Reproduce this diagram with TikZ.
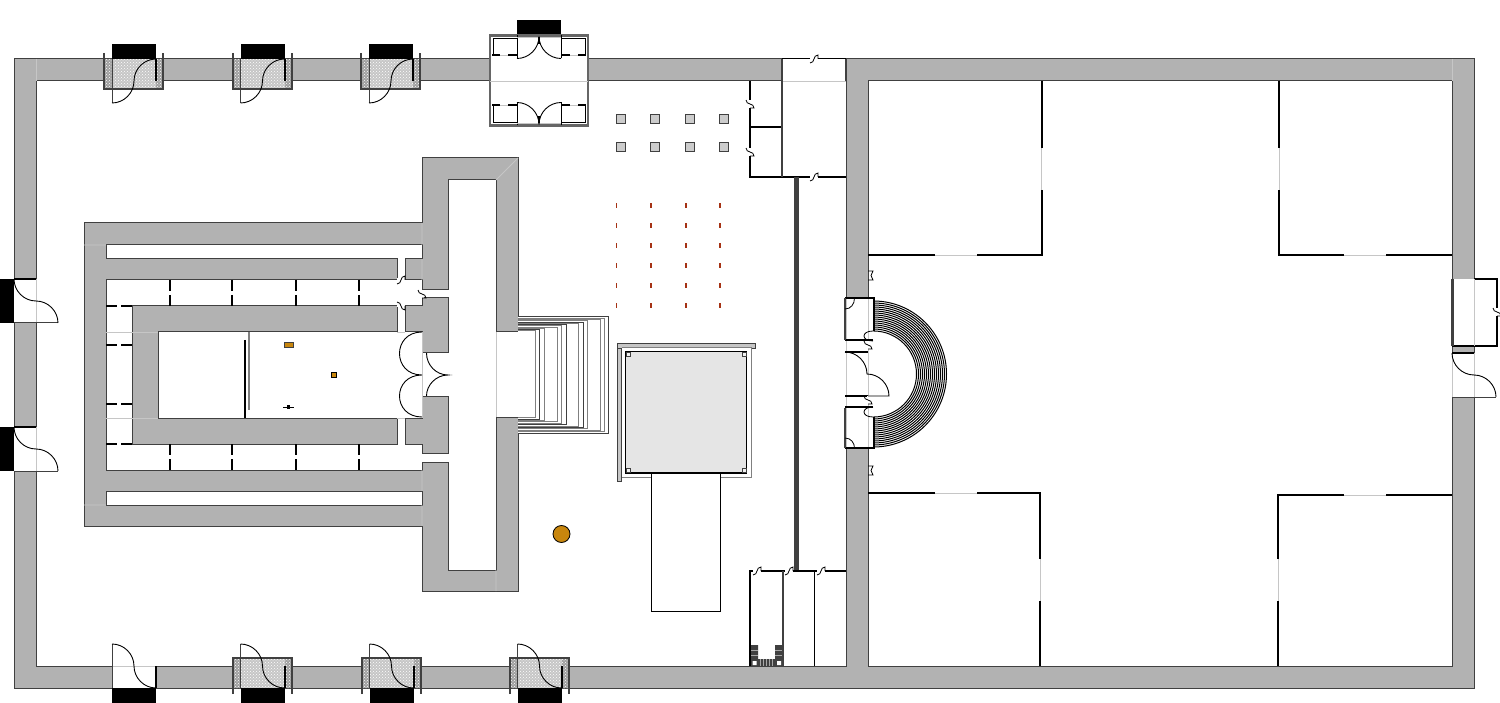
\documentclass[tikz,border=0pt]{standalone}
\usetikzlibrary{patterns}
\definecolor{wallgray}{gray}{0.7}
\definecolor{linedark}{gray}{0.25}
\definecolor{brassfill}{RGB}{200,134,13}
\definecolor{reddash}{RGB}{165,50,20}
\tikzset{
  wall/.style={fill=wallgray,even odd rule,draw=linedark,line width=1pt},
  seam/.style={draw=gray!45,line width=0.8pt},
  partition/.style={draw=black,line width=2pt},
  thinline/.style={draw=black,line width=1pt},
  pics/notch/.style={code={
    \draw[white,line width=3pt] (0,0) -- (8,0);
    \draw[black,line width=0.8pt] (0,4) .. controls (2,4) and (4,2) .. (4,0) .. controls (4,-2) and (6,-4) .. (8,-4) -- (8,0);
  }},
  pics/doorbase/.style={code={
    \fill[white] (0,0) rectangle (44,22);
    \draw[seam] (0,22) -- (44,22);
  }},
  pics/doorleaf/.style={code={
    \draw[linedark,line width=1pt] (0,0) -- (0,44);
    \draw[black,line width=0.9pt] (0,44) .. controls (12,44) and (22,34) .. (22,22) .. controls (22,10) and (32,0) .. (44,0);
    \draw[black,line width=2pt] (44,0) -- (44,22);
  }},
  pics/blackstep/.style={code={
    \fill[black] (0,0) rectangle (44,-15);
  }},
  pics/bay/.style={code={
    \fill[gray!75] (-8,0) rectangle (51,30);
    \fill[gray!45] (0,0) rectangle (44,30);
    \fill[pattern=crosshatch dots,pattern color=white] (-8,0) rectangle (51,30);
    \draw[linedark,line width=2pt] (-8,-6) -- (-8,30) -- (51,30) -- (51,-6);
    \pic[transform shape] {doorleaf};
    \pic[transform shape] {blackstep};
  }},
  pics/portalhalf/.style={code={
    \fill[white] (0,-45) rectangle (98,0);
    \draw[linedark!80,line width=2.5pt] (0,0) -- (0,-45) -- (98,-45) -- (98,0);
    \draw[thinline] (3,-25) -- (3,-42) -- (27,-42) (71,-42) -- (95,-42) -- (95,-25);
    \draw[thinline] (27,-45) -- (27,-22) (71,-45) -- (71,-22);
    \draw[seam] (27,-43) -- (71,-43) (10,-25) -- (18,-25) (80,-25) -- (88,-25);
    \foreach \a/\b in {2/10,18/27,71/80,88/96} {\draw[black,line width=2pt] (\a,-25) -- (\b,-25);}
    \draw[black,line width=0.9pt] (27,-22) .. controls (39,-22) and (49,-32) .. (49,-44) (71,-22) .. controls (59,-22) and (49,-32) .. (49,-44);
    \draw[black,line width=1.5pt] (49,-43) -- (49,-36);
  }}
}
\begin{document}
\begin{tikzpicture}[x=1pt,y=-1pt]
  \useasboundingbox (0,0) rectangle (1500,703);
  \fill[white] (0,0) rectangle (1500,703);
  % outer walls
  \path[wall] (14,59) rectangle (1474,688) (36,81) rectangle (846,666) (868,81) rectangle (1452,666);
  \foreach \a/\b/\c/\d in {36/59/36/81,1452/59/1452/81} {
    \draw[seam] (\a,\b) -- (\c,\d);
  }
  % sanctuary block
  \path[wall]
    (422,158) -- (518,158) -- (518,591) -- (422,591) -- (422,526) -- (84,526) -- (84,223) -- (422,223) -- cycle
    (106,245) -- (422,245) -- (422,259) -- (405,259) -- (405,280) -- (422,280) -- (422,290) -- (448,290) -- (448,180) -- (496,180) -- (496,332) -- (518,332) -- (518,417) -- (496,417) -- (496,570) -- (448,570) -- (448,462) -- (422,462) -- (422,470) -- (106,470) -- (106,280) -- (397,280) -- (397,259) -- (106,259) -- cycle
    (132,306) -- (397,306) -- (397,332) -- (158,332) -- (158,418) -- (397,418) -- (397,444) -- (132,444) -- cycle
    (405,306) -- (422,306) -- (422,298) -- (448,298) -- (448,353) -- (422,353) -- (422,332) -- (405,332) -- cycle
    (405,418) -- (422,418) -- (422,396) -- (448,396) -- (448,453) -- (422,453) -- (422,444) -- (405,444) -- cycle
    (106,491) rectangle (422,505);
  \draw[white,line width=2pt] (518,333) -- (518,416);
  \draw[seam] (422,223) -- (422,245) (422,505) -- (422,526) (84,245) -- (106,245) (84,505) -- (106,505) (518,158) -- (496,180) (422,259) -- (422,280) (422,470) -- (422,491) (496,570) -- (496,591);
  \draw[seam] (422,332) -- (422,418) (397,332) -- (405,332) (397,418) -- (405,418) (106,332) -- (158,332) (106,418) -- (158,418) (496,332) -- (496,417);
  % ring corridor partitions
  \foreach \x in {170,232,296,359} {
    \draw[black,line width=1.8pt] (\x,280) -- (\x,291) (\x,295) -- (\x,306);
    \draw[black,line width=1.8pt] (\x,444) -- (\x,455) (\x,459) -- (\x,470);
  }
  \foreach \y in {306,345,404,444} {
    \draw[black,line width=1.8pt] (106,\y) -- (117,\y) (121,\y) -- (132,\y);
  }
  \pic at (397,280) {notch};
  \pic[yscale=-1] at (397,306) {notch};
  \pic[rotate=-90] at (422,290) {notch};
  % inner doors
  \draw[black,line width=0.9pt] (422,332) .. controls (392,332) and (392,375) .. (422,375) .. controls (392,375) and (392,417) .. (422,417);
  \draw[black,line width=0.9pt] (426.5,353) .. controls (426.5,365) and (436,375) .. (448,375) .. controls (436,375) and (426.5,385) .. (426.5,396);
  % inner room
  \draw[black,line width=1.3pt] (245,340) -- (245,418);
  \draw[gray,line width=1.3pt] (249,332) -- (249,410);
  \draw[black,line width=0.9pt] (283,407) -- (294,407);
  \fill[black] (286.5,405) rectangle (289.5,409);
  \draw[linedark,line width=0.8pt,fill=brassfill] (284,342.5) rectangle (293,347);
  \draw[black,line width=0.9pt,fill=brassfill] (331,372.5) rectangle (336,377.5);
  \draw[black,line width=0.8pt,fill=brassfill] (561.5,534) circle (8.5pt);
  % stairs
  \foreach \i/\r/\c in {0/608/linedark,1/604/gray,2/600/gray,3/587/gray,4/583/linedark,5/578/gray,6/566/linedark,7/561/gray,8/557/gray,9/544/gray,10/539/linedark,11/535/gray} {
    \fill[white] (518,{317+1.27*\i}) rectangle (\r,{433-1.4*\i});
    \draw[\c,line width=1pt] (518,{317+1.27*\i}) -- (\r,{317+1.27*\i}) -- (\r,{433-1.4*\i}) -- (518,{433-1.4*\i});
  }
  % posts and pegs
  \foreach \x in {620.5,655,689.5,724} {
    \foreach \y in {119.5,147} {
      \draw[linedark,line width=1pt,fill=gray!40] (\x-4.5,\y-4.5) rectangle (\x+4.5,\y+4.5);
    }
  }
  \foreach \x in {616.5,651,686,720} {
    \foreach \y in {206,226,246,266,286,306} {
      \draw[reddash,line width=1.5pt] (\x,\y-2.5) -- (\x,\y+2.5);
    }
  }
  % dais
  \draw[linedark,line width=0.8pt,fill=gray!45] (617,343) rectangle (755,348);
  \draw[linedark,line width=0.8pt,fill=gray!45] (617,348) rectangle (621.5,481.5);
  \draw[gray,line width=1pt,fill=white] (622,348) -- (751,348) -- (751,477) -- (622,477);
  \draw[black,line width=1.2pt,fill=gray!20] (625.5,351.5) rectangle (746.5,473);
  \foreach \x in {626,742} {
    \foreach \y in {352,468} {
      \draw[linedark,line width=0.8pt,fill=gray!10] (\x,\y) rectangle ++(4.5,4.5);
    }
  }
  \draw[black,line width=0.9pt,fill=white] (651,473) rectangle (720,611);
  % top entry porch
  \fill[black] (517,20) rectangle (561,36);
  \pic at (490,80.5) {portalhalf};
  \pic[yscale=-1] at (490,80.5) {portalhalf};
  \draw[seam] (490,81) -- (588,81);
  % vestry rooms upper
  \fill[white] (782,59) rectangle (846,81);
  \draw[seam] (782,81) -- (846,81);
  \draw[partition] (750,81) -- (750,177) -- (846,177) (750,127.5) -- (782,127.5);
  \draw[linedark,line width=1.5pt] (782,59) -- (782,177) (846,59) -- (846,81);
  \draw[black,line width=1pt] (782,59) -- (846,59);
  \pic at (810,59) {notch};
  \pic at (810,177) {notch};
  \pic[rotate=-90] at (750,100) {notch};
  \pic[rotate=-90] at (750,148) {notch};
  % partition bar
  \draw[linedark,line width=5pt] (796.5,177) -- (796.5,571);
  % vestry rooms lower
  \draw[partition] (750,666) -- (750,571) -- (846,571);
  \draw[linedark,line width=1.5pt] (783,571) -- (783,666);
  \draw[thinline] (814,571) -- (814,666);
  \pic at (753,571) {notch};
  \pic at (785,571) {notch};
  \pic at (817,571) {notch};
  \fill[linedark] (751,645) rectangle (758,666) (775,645) rectangle (782.5,666) (758,659) rectangle (775,666);
  \foreach \x in {760,763,766,769,772} {\draw[gray!70,line width=0.8pt] (\x,659) -- (\x,666);}
  \foreach \y in {650,655} {\draw[gray!70,line width=0.8pt] (751,\y) -- (758,\y) (775,\y) -- (782,\y);}
  \fill[white] (752.5,661) rectangle (756.5,665) (777,661) rectangle (781,665);
  % doors in the outer walls
  \foreach \x in {104,232.5,361} {
    \pic at (\x+8,59) {bay};
  }
  \foreach \x in {233,362,510} {
    \pic[yscale=-1] at (\x+7.5,688) {bay};
  }
  \pic[yscale=-1] at (112,688) {doorbase};
  \pic[yscale=-1] at (112,688) {doorleaf};
  \pic[yscale=-1] at (112,688) {blackstep};
  \foreach \y in {323,471} {
    \pic[rotate=90] at (14,\y) {doorbase};
    \pic[rotate=90] at (14,\y) {doorleaf};
    \pic[rotate=90] at (14,\y) {blackstep};
  }
  \fill[white] (1452,353) rectangle (1474,397);
  \draw[seam] (1474,353) -- (1474,397) (1452,353) -- (1452,397);
  \pic[rotate=90] at (1452,397) {doorleaf};
  % east annexe
  \fill[white] (1452,279) rectangle (1497,345);
  \draw[black,line width=2pt] (1474,279) -- (1497,279) -- (1497,346) -- (1452,346);
  \draw[linedark,line width=2.5pt] (1452.5,279) -- (1452.5,346);
  \draw[seam] (1474,279) -- (1474,346);
  \pic[rotate=-90] at (1497,308) {notch};
  % apse
  \foreach \r in {43,45,...,73} {
    \draw[black,line width=1pt] (873.5,{374-\r}) arc[start angle=90,end angle=-90,radius=\r pt];
  }
  \fill[white] (846,298) rectangle (873,448);
  \draw[seam] (846,298) -- (846,448) (868,298) -- (868,448);
  \draw[black,line width=2pt] (845,298) -- (873.5,298) -- (873.5,331) (845,448) -- (873.5,448) -- (873.5,417);
  \draw[black,line width=2pt] (845,340.5) -- (873,340.5) (845,352) -- (868,352) (845,396) -- (868,396) (845,407) -- (873,407);
  \draw[linedark,line width=1.2pt] (845,298) -- (845,340) (845,408) -- (845,448);
  \pic[rotate=-90] at (868,341) {notch};
  \pic[rotate=-90] at (868,396) {notch};
  \draw[black,line width=0.9pt] (845,352) .. controls (857,352) and (867,362) .. (867,374) .. controls (879,374) and (889,384) .. (889,396) -- (868,396);
  \draw[black,line width=0.8pt] (845,309) .. controls (851,309) and (854.5,304) .. (854.5,298);
  \draw[black,line width=0.8pt] (845,438) .. controls (851,438) and (854.5,443) .. (854.5,448);
  \draw[black,line width=0.8pt] (873,331) .. controls (861,331) and (861,341) .. (873,341);
  \draw[black,line width=0.8pt] (873,407) .. controls (861,407) and (861,417) .. (873,417);
  \foreach \y in {271,466} {
    \draw[black,line width=0.8pt] (868,\y) -- (873,\y) -- (871,\y+4.5) -- (873,\y+9) -- (868,\y+9);
  }
  % east rooms
  \draw[partition] (1041.5,81) -- (1041.5,148) (1041.5,190) -- (1041.5,255) -- (977,255) (935,255) -- (868,255);
  \draw[partition] (1279,81) -- (1279,148) (1279,190) -- (1279,255) -- (1344,255) (1386,255) -- (1452,255);
  \draw[partition] (868,493) -- (935,493) (977,493) -- (1040,493) -- (1040,559) (1040,601) -- (1040,666);
  \draw[partition] (1452,495) -- (1386,495) (1344,495) -- (1278,495) -- (1278,559) (1278,601) -- (1278,666);
  \draw[seam] (1041.5,148) -- (1041.5,190) (935,255) -- (977,255) (1279,148) -- (1279,190) (1344,255) -- (1386,255) (935,493) -- (977,493) (1040,559) -- (1040,601) (1344,495) -- (1386,495) (1278,559) -- (1278,601);
\end{tikzpicture}
\end{document}
